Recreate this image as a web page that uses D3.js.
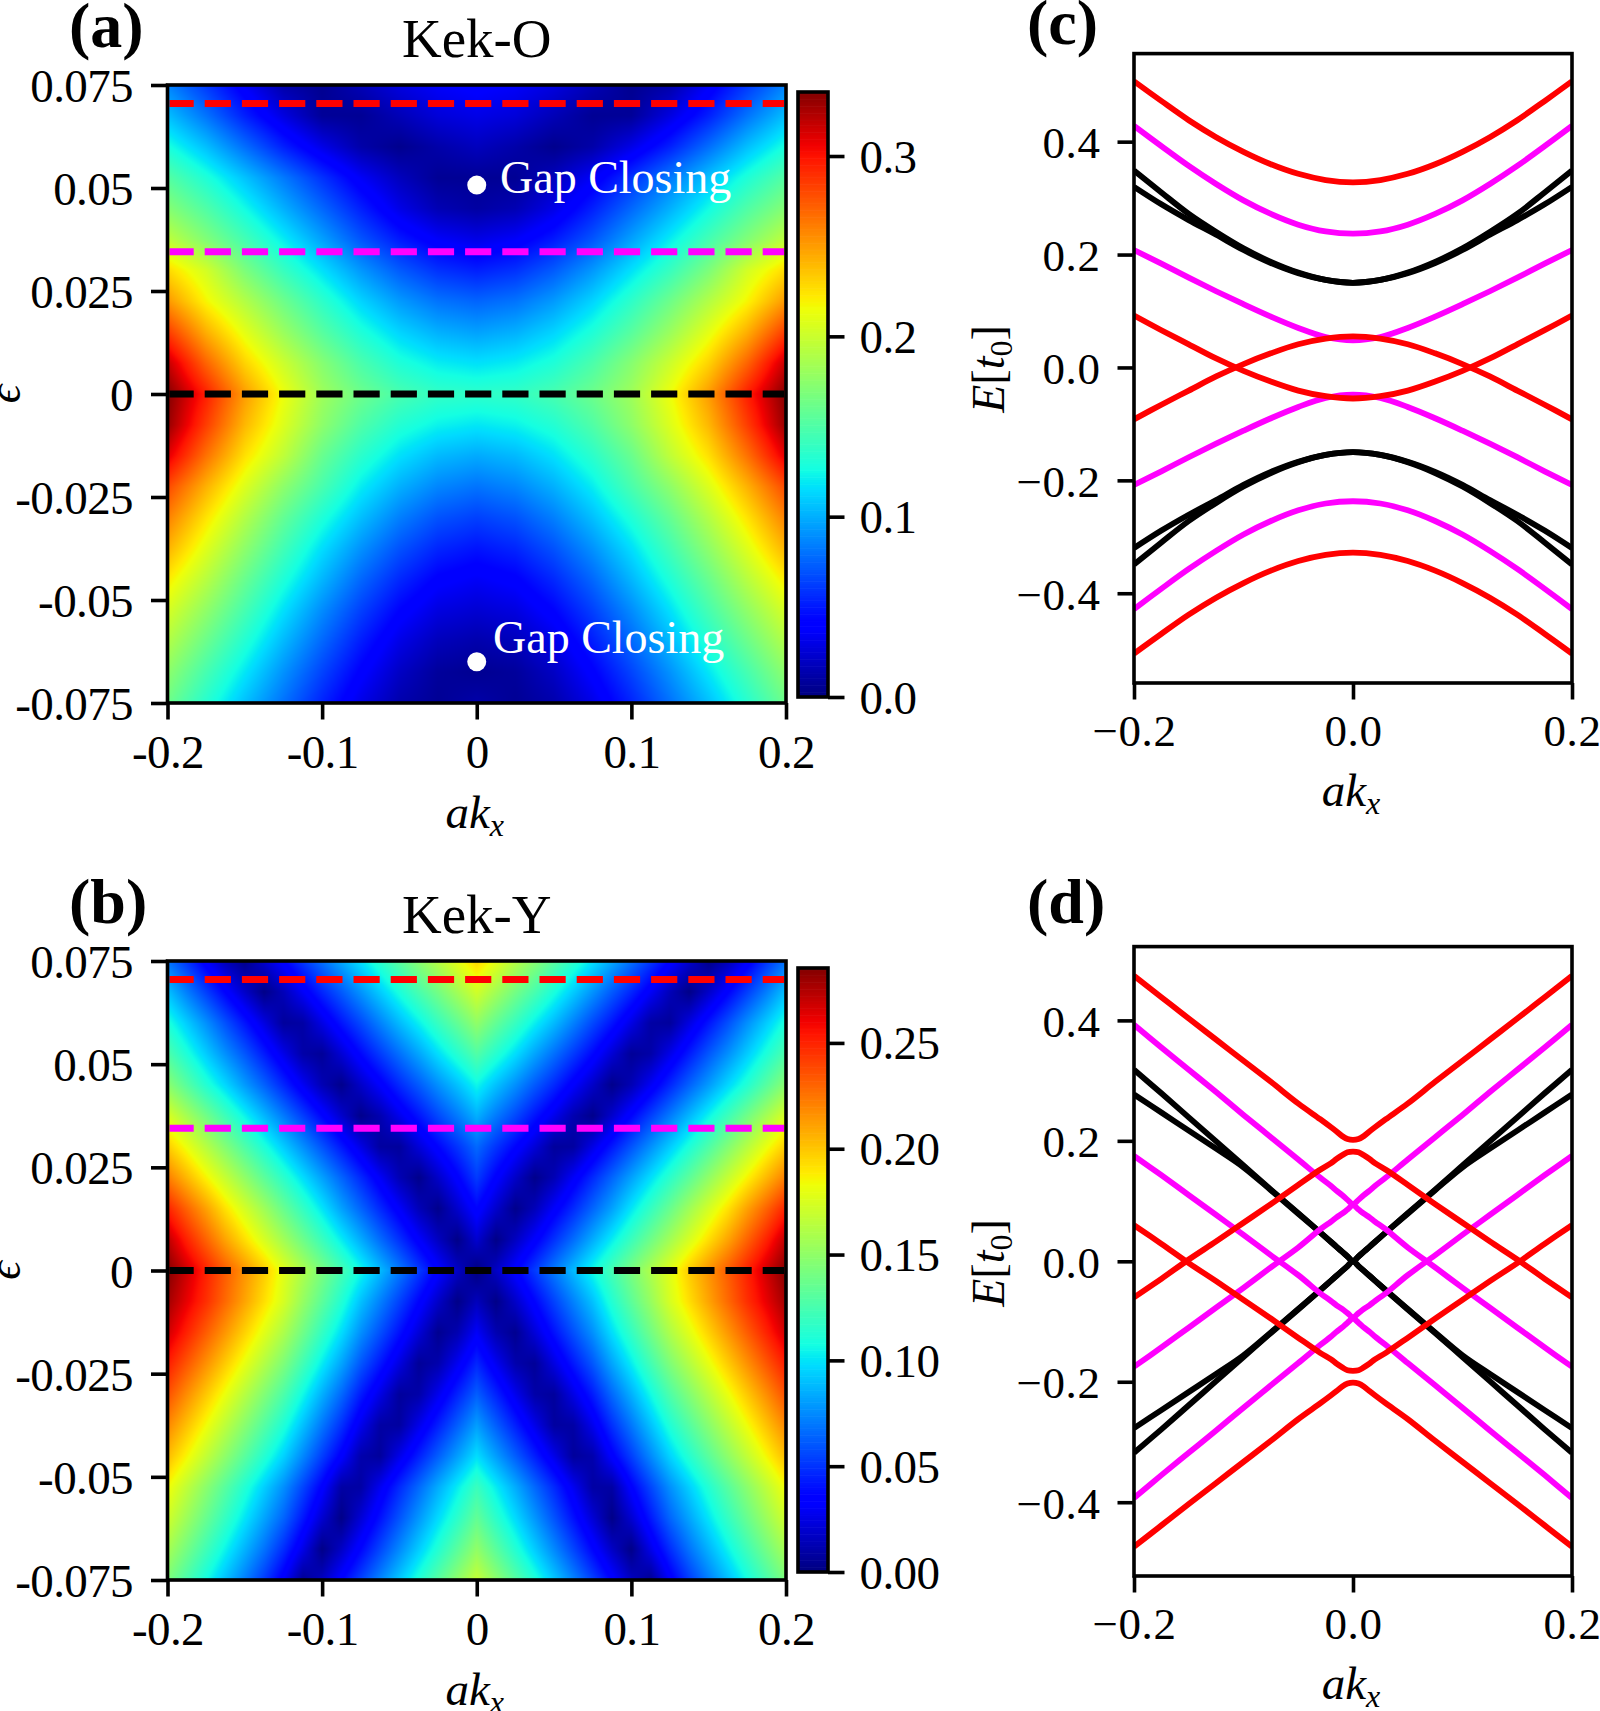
<!DOCTYPE html>
<html>
<head>
<meta charset="utf-8">
<script src="https://cdn.jsdelivr.net/npm/d3@7"></script>
<style>
  body { margin: 0; background: #fff; }
  svg { display: block; }
  text { font-family: "Liberation Serif", "DejaVu Serif", serif; fill: #000; }
</style>
</head>
<body>
<svg id="fig" width="1600" height="1711"></svg>
<script>
// ---- heat map data. Columns are |ak_x|, left and right side mirror each other
const epsRows = [0.075, 0.0675, 0.06, 0.0525, 0.045, 0.0375, 0.03, 0.0225, 0.015, 0.0075, 0,
  -0.0075, -0.015, -0.0225, -0.03, -0.0375, -0.045, -0.0525, -0.06, -0.0675, -0.075];

const kekOCols = [0, 0.025, 0.05, 0.075, 0.1, 0.125, 0.15, 0.175, 0.2];
const kekOGrid = [
  [.040,.036,.028,.016,.005,.012,.035,.060,.085],
  [.030,.026,.016,.006,.007,.028,.052,.080,.105],
  [.018,.012,.004,.012,.030,.052,.078,.105,.128],
  [.006,.006,.018,.035,.058,.082,.106,.130,.152],
  [.010,.015,.030,.052,.076,.100,.125,.150,.172],
  [.030,.036,.050,.070,.095,.120,.145,.170,.195],
  [.052,.058,.072,.092,.116,.140,.168,.203,.228],
  [.075,.080,.093,.112,.136,.162,.190,.218,.252],
  [.095,.100,.112,.130,.153,.180,.210,.243,.285],
  [.116,.120,.130,.148,.172,.200,.230,.270,.318],
  [.136,.138,.147,.162,.182,.214,.250,.295,.335],
  [.118,.122,.132,.150,.175,.207,.240,.284,.330],
  [.098,.103,.116,.135,.160,.195,.225,.265,.310],
  [.080,.086,.100,.120,.147,.175,.207,.242,.280],
  [.063,.069,.084,.105,.130,.158,.190,.224,.260],
  [.048,.054,.069,.090,.115,.144,.175,.208,.242],
  [.035,.040,.055,.076,.102,.130,.160,.192,.222],
  [.024,.028,.042,.063,.088,.116,.146,.176,.205],
  [.013,.017,.030,.051,.076,.103,.132,.161,.190],
  [.005,.008,.020,.040,.064,.090,.118,.146,.175],
  [.012,.006,.013,.030,.053,.079,.105,.133,.162]
];

const kekYCols = [0, 0.0125, 0.025, 0.0375, 0.05, 0.0625, 0.075, 0.0875, 0.1, 0.1125, 0.125, 0.1375, 0.15, 0.1625, 0.175, 0.1875, 0.2];
const kekYGrid = [
  [.195,.179,.163,.147,.131,.115,.099,.083,.067,.051,.035,.019,.003,.014,.031,.050,.068],
  [.172,.156,.140,.125,.109,.093,.077,.061,.046,.030,.014,.002,.018,.035,.053,.071,.090],
  [.150,.134,.119,.103,.088,.072,.056,.041,.025,.009,.007,.024,.041,.058,.076,.093,.110],
  [.128,.113,.098,.082,.067,.052,.037,.021,.006,.010,.026,.043,.060,.076,.093,.110,.127],
  [.105,.090,.076,.061,.047,.032,.018,.003,.013,.029,.046,.063,.079,.096,.112,.130,.148],
  [.085,.070,.056,.041,.027,.012,.003,.019,.036,.053,.070,.087,.104,.121,.139,.157,.175],
  [.065,.050,.036,.022,.007,.008,.025,.042,.059,.076,.093,.110,.127,.145,.163,.181,.198],
  [.052,.034,.018,.003,.013,.030,.047,.064,.081,.098,.115,.132,.150,.168,.186,.204,.222],
  [.036,.019,.003,.014,.031,.047,.064,.081,.100,.118,.136,.155,.173,.191,.211,.230,.250],
  [.020,.002,.016,.032,.049,.066,.084,.102,.120,.138,.156,.174,.192,.210,.230,.250,.272],
  [.000,.017,.034,.052,.070,.088,.106,.124,.142,.160,.178,.198,.215,.232,.250,.268,.285],
  [.015,.002,.018,.036,.054,.072,.090,.112,.132,.152,.174,.192,.210,.228,.246,.262,.278],
  [.030,.012,.004,.022,.040,.058,.076,.098,.118,.139,.160,.178,.196,.214,.232,.250,.268],
  [.046,.028,.011,.006,.024,.042,.060,.082,.102,.123,.144,.162,.180,.198,.216,.234,.252],
  [.062,.045,.027,.010,.007,.025,.043,.065,.085,.106,.127,.145,.163,.181,.199,.217,.236],
  [.080,.062,.044,.026,.008,.009,.027,.049,.069,.090,.111,.129,.147,.165,.183,.201,.219],
  [.098,.080,.062,.044,.026,.007,.011,.033,.053,.074,.095,.113,.131,.149,.167,.185,.203],
  [.120,.102,.084,.065,.047,.028,.009,.009,.034,.055,.076,.094,.112,.130,.148,.166,.184],
  [.134,.115,.097,.078,.059,.040,.021,.002,.020,.042,.064,.082,.100,.118,.136,.154,.172],
  [.150,.131,.112,.093,.074,.055,.036,.017,.002,.026,.048,.068,.086,.104,.122,.140,.158],
  [.168,.149,.130,.111,.092,.073,.054,.035,.016,.005,.031,.052,.071,.089,.107,.125,.143]
];

// ---- band energies at ak_x >= 0, each is drawn mirrored in ak_x and in E
const kxC = [0, 0.025, 0.05, 0.075, 0.1, 0.125, 0.15, 0.175, 0.2];
const cRedOuter = [.328, .332, .343, .360, .382, .408, .438, .472, .507];
const cMagentaOuter = [.237, .241, .253, .272, .296, .325, .357, .392, .428];
const cBlackOuter = [.150, .155, .168, .187, .211, .240, .272, .310, .349];
const cBlackInner = [.150, .155, .167, .185, .208, .235, .261, .289, .320];
const cMagentaInner = [.048, .054, .070, .090, .112, .135, .159, .184, .208];
const cRedInner = [.055, .051, .041, .025, .006, -.016, -.041, -.066, -.092];

const kxD = [0, 0.005, 0.01, 0.015, 0.02, 0.03, 0.05, 0.075, 0.1, 0.125, 0.15, 0.175, 0.2];
const dRedOuter = [.2015, .203, .208, .2155, .2225, .236, .262, .298, .333, .368, .403, .4385, .474];
const dRedInner = [.182, .181, .176, .170, .163, .152, .127, .095, .064, .033, .003, -.029, -.060];
const dMagentaOuter = [.095, .102, .110, .117, .125, .139, .169, .206, .243, .281, .318, .355, .393];
const dMagentaInner = [-.093, -.086, -.079, -.073, -.066, -.053, -.023, .010, .044, .077, .110, .143, .175];
const dBlackOuter = [0, .008, .016, .024, .032, .048, .080, .119, .159, .199, .239, .279, .318];
const dBlackInner = [0, .008, .016, .024, .032, .048, .079, .118, .156, .187, .217, .247, .277];

// ---- tick labels
const kTicks = [-0.2, -0.1, 0, 0.1, 0.2];
const kLabels = ["-0.2", "-0.1", "0", "0.1", "0.2"];
const epsTicks = [0.075, 0.05, 0.025, 0, -0.025, -0.05, -0.075];
const epsLabels = ["0.075", "0.05", "0.025", "0", "-0.025", "-0.05", "-0.075"];
const cbarTicksO = [0, 0.1, 0.2, 0.3];
const cbarLabelsO = ["0.0", "0.1", "0.2", "0.3"];
const cbarTicksY = [0, 0.05, 0.1, 0.15, 0.2, 0.25];
const cbarLabelsY = ["0.00", "0.05", "0.10", "0.15", "0.20", "0.25"];
const bandXTicks = [-0.2, 0, 0.2];
const bandXLabels = ["\u22120.2", "0.0", "0.2"];
const bandYTicks = [0.4, 0.2, 0, -0.2, -0.4];
const bandYLabels = ["0.4", "0.2", "0.0", "\u22120.2", "\u22120.4"];

const dashLevels = [0.0705, 0.0345, 0];
const dashColors = ["#ff0000", "#ff00ff", "#000000"];

const svg = d3.select("#fig");
const RED = "#ff0000", MAG = "#ff00ff", BLK = "#000000";
const SPINE = 3.6, TICK = 16.5;

// matplotlib's jet
const jetStops = [0, .11, .125, .34, .35, .375, .64, .65, .66, .89, .91, 1];
const jetColors = ["rgb(0,0,128)", "rgb(0,0,255)", "rgb(0,0,255)", "rgb(0,219,255)", "rgb(0,229,247)",
  "rgb(20,255,226)", "rgb(239,255,8)", "rgb(247,245,0)", "rgb(255,235,0)", "rgb(255,20,0)", "rgb(242,0,0)", "rgb(128,0,0)"];
function jet(max) {
  return d3.scaleLinear().domain(jetStops.map(f => f * max)).range(jetColors).clamp(true);
}

function styleAxis(g, size, spacing) {
  g.select(".domain").remove();
  g.selectAll(".tick line").attr("stroke", "#000").attr("stroke-width", SPINE);
  g.selectAll(".tick text")
    .attr("font-family", "Liberation Serif")
    .attr("font-size", size)
    .attr("letter-spacing", spacing)
    .attr("fill", "#000");
}

function akx(x, y) {
  const t = svg.append("text").attr("x", x - 2).attr("y", y).attr("text-anchor", "middle")
    .attr("font-size", 47).attr("font-style", "italic");
  t.append("tspan").text("ak");
  t.append("tspan").text("x").attr("font-size", 32).attr("dy", 8);
}

// heat map panel: bilinear shading of the read grid, like imshow with smoothing
function heatPanel(o) {
  const x = d3.scaleLinear().domain([-0.2, 0.2]).range([167.5, 786]);
  const y = d3.scaleLinear().domain([0.075, -0.075]).range([o.top, o.bottom]);
  const color = jet(o.max);

  const w = Math.round(x.range()[1] - x.range()[0]);
  const h = Math.round(o.bottom - o.top);
  const canvas = document.createElement("canvas");
  canvas.width = w; canvas.height = h;
  const ctx = canvas.getContext("2d");
  const img = ctx.createImageData(w, h);
  const colIdx = d3.scaleLinear().domain(o.cols).range(d3.range(o.cols.length)).clamp(true);
  const rowIdx = d3.scaleLinear().domain(epsRows).range(d3.range(epsRows.length)).clamp(true);
  for (let j = 0; j < h; j++) {
    const rf = rowIdx(y.invert(o.top + j + 0.5));
    const r0 = Math.min(Math.floor(rf), epsRows.length - 2), rt = rf - r0;
    for (let i = 0; i < w; i++) {
      const cf = colIdx(Math.abs(x.invert(x.range()[0] + i + 0.5)));
      const c0 = Math.min(Math.floor(cf), o.cols.length - 2), ct = cf - c0;
      const v = (o.grid[r0][c0] * (1 - ct) + o.grid[r0][c0 + 1] * ct) * (1 - rt)
              + (o.grid[r0 + 1][c0] * (1 - ct) + o.grid[r0 + 1][c0 + 1] * ct) * rt;
      const c = d3.rgb(color(v));
      const p = (j * w + i) * 4;
      img.data[p] = c.r; img.data[p + 1] = c.g; img.data[p + 2] = c.b; img.data[p + 3] = 255;
    }
  }
  ctx.putImageData(img, 0, 0);
  svg.append("image").attr("href", canvas.toDataURL())
    .attr("x", x.range()[0]).attr("y", o.top).attr("width", w).attr("height", h);

  // dashed guide lines
  svg.append("g").selectAll("line").data(dashLevels).join("line")
    .attr("x1", x(-0.2) + 2).attr("x2", x(0.2) - 2)
    .attr("y1", d => y(d)).attr("y2", d => y(d))
    .attr("stroke", (d, i) => dashColors[i])
    .attr("stroke-width", 7)
    .attr("stroke-dasharray", "26.2 11")
    .attr("stroke-dashoffset", 2);

  // gap closing points
  svg.append("g").selectAll("circle").data(o.gaps).join("circle")
    .attr("cx", x(0)).attr("cy", d => y(d)).attr("r", 9.5).attr("fill", "#fff");
  o.gapText.forEach(t => {
    svg.append("text").attr("x", t[0]).attr("y", t[1]).text("Gap Closing")
      .attr("font-size", 46).style("fill", "#fff");
  });

  svg.append("rect").attr("x", x.range()[0]).attr("y", o.top).attr("width", x.range()[1] - x.range()[0])
    .attr("height", o.bottom - o.top).attr("fill", "none").attr("stroke", "#000").attr("stroke-width", SPINE);

  svg.append("g").attr("transform", `translate(0,${o.bottom})`)
    .call(d3.axisBottom(x).tickValues(kTicks).tickSize(TICK).tickPadding(14)
      .tickFormat((d, i) => kLabels[i]))
    .call(g => styleAxis(g, 47, -0.6))
    .selectAll(".tick text").attr("dy", 0).attr("y", 65);

  svg.append("g").attr("transform", `translate(${x.range()[0]},0)`)
    .call(d3.axisLeft(y).tickValues(epsTicks).tickSize(TICK).tickPadding(18)
      .tickFormat((d, i) => epsLabels[i]))
    .call(g => styleAxis(g, 47, -0.6))
    .selectAll(".tick text").attr("dy", 16.5);

  // colour bar
  const cb = d3.scaleLinear().domain([0, o.max]).range([o.cbBottom, o.cbTop]);
  const steps = d3.range(0, 256).map(i => i / 256 * o.max);
  svg.append("g").selectAll("rect").data(steps).join("rect")
    .attr("x", 798).attr("width", 30)
    .attr("y", d => cb(d + o.max / 256))
    .attr("height", (o.cbBottom - o.cbTop) / 256 + 0.6)
    .attr("fill", d => color(d));
  svg.append("rect").attr("x", 798).attr("y", o.cbTop).attr("width", 30)
    .attr("height", o.cbBottom - o.cbTop).attr("fill", "none").attr("stroke", "#000").attr("stroke-width", SPINE);
  svg.append("g").attr("transform", "translate(828,0)")
    .call(d3.axisRight(cb).tickValues(o.cbTicks).tickSize(TICK).tickPadding(15)
      .tickFormat((d, i) => o.cbLabels[i]))
    .call(g => styleAxis(g, 47, -0.6))
    .selectAll(".tick text").attr("dy", 16);

  // titles and labels
  svg.append("text").attr("x", x(0)).attr("y", o.top - 28).attr("text-anchor", "middle")
    .attr("font-size", 55).text(o.title);
  svg.append("text").attr("x", 69).attr("y", o.top - 38).attr("font-size", 64)
    .attr("font-weight", "bold").text(o.letter);
  akx(x(0), o.bottom + 125);
  svg.append("text").attr("transform", `translate(20,${y(0)}) rotate(-90)`)
    .attr("text-anchor", "middle").attr("font-size", 46).attr("font-style", "italic").text("\u03f5");
}

// band structure panel
function bandPanel(o) {
  const x = d3.scaleLinear().domain([-0.2, 0.2]).range([1134, 1572]);
  const y = d3.scaleLinear().domain(o.yDomain).range([o.top, o.bottom]);
  const line = d3.line().x(d => x(d[0])).y(d => y(d[1])).curve(d3.curveCatmullRom.alpha(0.5));
  const clipId = "clip" + o.letter.charAt(1);
  svg.append("clipPath").attr("id", clipId).append("rect")
    .attr("x", x.range()[0]).attr("y", o.top).attr("width", x.range()[1] - x.range()[0]).attr("height", o.bottom - o.top);

  const g = svg.append("g").attr("clip-path", `url(#${clipId})`);
  o.bands.forEach(b => {
    [1, -1].forEach(sign => {
      const pts = [];
      for (let i = o.kx.length - 1; i > 0; i--) pts.push([-o.kx[i], sign * b[0][i]]);
      o.kx.forEach((k, i) => pts.push([k, sign * b[0][i]]));
      g.append("path").datum(pts).attr("d", line).attr("fill", "none")
        .attr("stroke", b[1]).attr("stroke-width", 5.8);
    });
  });

  svg.append("rect").attr("x", x.range()[0]).attr("y", o.top).attr("width", x.range()[1] - x.range()[0])
    .attr("height", o.bottom - o.top).attr("fill", "none").attr("stroke", "#000").attr("stroke-width", SPINE);

  svg.append("g").attr("transform", `translate(0,${o.bottom})`)
    .call(d3.axisBottom(x).tickValues(bandXTicks).tickSize(TICK).tickFormat((d, i) => bandXLabels[i]))
    .call(g2 => styleAxis(g2, 45, 0.6))
    .selectAll(".tick text").attr("dy", 0).attr("y", 63);
  svg.append("g").attr("transform", `translate(${x.range()[0]},0)`)
    .call(d3.axisLeft(y).tickValues(bandYTicks).tickSize(TICK).tickPadding(17).tickFormat((d, i) => bandYLabels[i]))
    .call(g2 => styleAxis(g2, 45, 0.6))
    .selectAll(".tick text").attr("dy", 16);

  svg.append("text").attr("x", 1027).attr("y", o.letterY).attr("font-size", 64)
    .attr("font-weight", "bold").text(o.letter);
  akx(x(0), o.bottom + 123);

  const e = svg.append("text").attr("transform", `translate(1004,${o.labelY}) rotate(-90)`)
    .attr("text-anchor", "middle").attr("font-size", 46);
  e.append("tspan").text("E").attr("font-style", "italic");
  e.append("tspan").text("[");
  e.append("tspan").text("t").attr("font-style", "italic");
  e.append("tspan").text("0").attr("font-size", 32).attr("dy", 8);
  e.append("tspan").text("]").attr("dy", -8);
}

heatPanel({
  title: "Kek-O", letter: "(a)", top: 85, bottom: 703, cols: kekOCols, grid: kekOGrid, max: 0.3355,
  cbTop: 92, cbBottom: 697, cbTicks: cbarTicksO, cbLabels: cbarLabelsO,
  gaps: [0.0507, -0.065], gapText: [[500, 193], [493, 653]]
});
heatPanel({
  title: "Kek-Y", letter: "(b)", top: 961, bottom: 1580, cols: kekYCols, grid: kekYGrid, max: 0.2854,
  cbTop: 968, cbBottom: 1572, cbTicks: cbarTicksY, cbLabels: cbarLabelsY,
  gaps: [], gapText: []
});
bandPanel({
  letter: "(c)", letterY: 44, top: 53.6, bottom: 683, yDomain: [0.556, -0.559], kx: kxC, labelY: 369,
  bands: [[cBlackOuter, BLK], [cBlackInner, BLK], [cMagentaOuter, MAG], [cMagentaInner, MAG], [cRedOuter, RED], [cRedInner, RED]]
});
bandPanel({
  letter: "(d)", letterY: 923, top: 946.6, bottom: 1576, yDomain: [0.5225, -0.5225], kx: kxD, labelY: 1263,
  bands: [[dBlackOuter, BLK], [dBlackInner, BLK], [dMagentaOuter, MAG], [dMagentaInner, MAG], [dRedOuter, RED], [dRedInner, RED]]
});
</script>
</body>
</html>
